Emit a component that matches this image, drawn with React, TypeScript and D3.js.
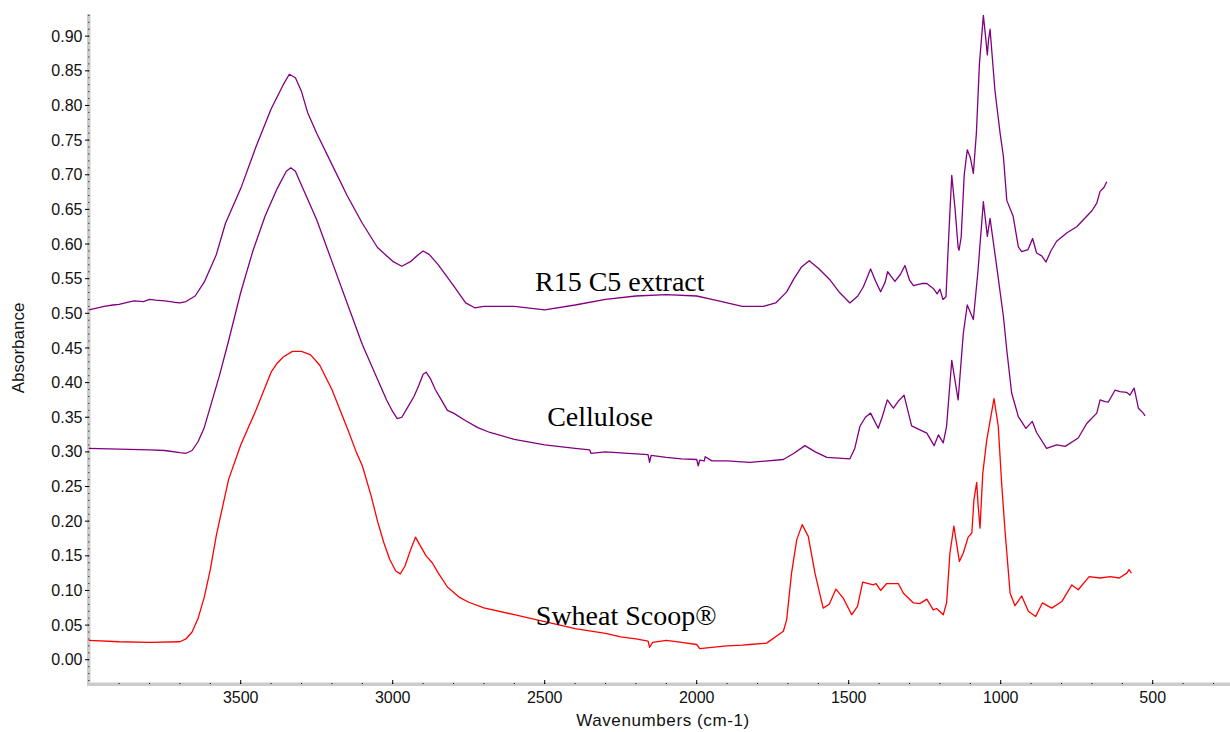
import React from "react";
import * as d3 from "d3";

// ---- Data (wavenumber cm-1, absorbance) ----
const r15Wn = [4000,3970,3950,3920,3900,3870,3850,3820,3800,3780,3750,3720,3700,3680,3650,3620,3580,3550,3500,3450,3400,3360,3340,3320,3300,3280,3250,3200,3150,3100,3050,3000,2970,2940,2915,2900,2880,2850,2800,2760,2730,2700,2600,2500,2400,2300,2200,2100,2000,1950,1900,1850,1800,1781,1740,1704,1680,1655,1630,1600,1561,1530,1496,1470,1452,1428,1410,1395,1380,1372,1360,1348,1330,1315,1300,1287,1260,1243,1220,1209,1200,1190,1180,1170,1161,1150,1140,1137,1130,1120,1110,1100,1090,1080,1070,1057,1050,1044,1040,1035,1019,1002,991,980,959,942,931,910,895,882,865,851,835,816,783,750,728,700,684,673,660,651];
const r15Abs = [0.505,0.508,0.510,0.512,0.513,0.516,0.518,0.517,0.520,0.519,0.518,0.516,0.515,0.517,0.525,0.545,0.585,0.630,0.680,0.740,0.795,0.830,0.845,0.840,0.820,0.790,0.760,0.715,0.670,0.630,0.595,0.575,0.568,0.575,0.585,0.590,0.585,0.570,0.540,0.515,0.508,0.510,0.510,0.505,0.512,0.520,0.525,0.527,0.525,0.520,0.515,0.510,0.510,0.510,0.515,0.531,0.550,0.567,0.576,0.565,0.548,0.530,0.515,0.525,0.538,0.564,0.545,0.531,0.545,0.560,0.553,0.546,0.556,0.569,0.548,0.540,0.543,0.543,0.535,0.528,0.535,0.520,0.524,0.620,0.699,0.650,0.595,0.591,0.610,0.700,0.736,0.725,0.702,0.760,0.860,0.930,0.900,0.873,0.895,0.910,0.822,0.760,0.726,0.663,0.640,0.596,0.589,0.592,0.608,0.587,0.583,0.574,0.590,0.604,0.616,0.625,0.635,0.648,0.659,0.676,0.682,0.690];

const celWn = [4000,3900,3800,3750,3700,3680,3660,3640,3620,3600,3570,3540,3500,3460,3420,3380,3350,3335,3320,3300,3280,3250,3200,3150,3100,3050,3020,3000,2985,2970,2950,2930,2915,2900,2890,2875,2860,2840,2820,2800,2760,2720,2680,2600,2500,2400,2352,2348,2300,2200,2160,2155,2150,2100,2050,2000,1995,1990,1975,1972,1950,1900,1825,1715,1680,1644,1610,1572,1496,1480,1463,1445,1428,1403,1390,1373,1353,1337,1318,1293,1243,1219,1205,1189,1178,1161,1140,1123,1110,1090,1075,1057,1044,1035,1013,991,980,964,942,917,896,882,849,816,788,745,717,684,673,657,646,624,608,586,575,561,547,531,525];
const celAbs = [0.305,0.304,0.303,0.302,0.299,0.298,0.302,0.315,0.335,0.365,0.410,0.460,0.530,0.590,0.640,0.680,0.705,0.710,0.705,0.685,0.665,0.635,0.575,0.515,0.455,0.405,0.375,0.358,0.348,0.350,0.365,0.380,0.395,0.412,0.415,0.405,0.390,0.375,0.360,0.356,0.345,0.335,0.328,0.318,0.310,0.305,0.303,0.298,0.300,0.297,0.296,0.285,0.295,0.292,0.290,0.289,0.280,0.288,0.287,0.293,0.287,0.287,0.285,0.289,0.298,0.309,0.300,0.292,0.290,0.305,0.337,0.350,0.356,0.334,0.350,0.375,0.363,0.373,0.382,0.3375,0.327,0.309,0.3245,0.313,0.337,0.432,0.375,0.471,0.512,0.491,0.560,0.661,0.611,0.637,0.567,0.495,0.447,0.385,0.351,0.334,0.344,0.328,0.305,0.310,0.308,0.320,0.341,0.356,0.375,0.3725,0.372,0.389,0.387,0.386,0.382,0.392,0.363,0.356,0.352];

const swWn = [4000,3900,3800,3700,3680,3660,3640,3620,3600,3580,3560,3540,3500,3450,3400,3380,3360,3330,3300,3270,3240,3200,3150,3120,3100,3070,3050,3030,3010,2990,2975,2960,2940,2925,2910,2890,2870,2850,2820,2780,2750,2700,2600,2500,2400,2300,2250,2200,2160,2155,2145,2100,2050,2000,1990,1950,1900,1850,1825,1770,1715,1704,1688,1671,1653,1633,1611,1584,1564,1542,1518,1490,1471,1454,1419,1410,1395,1375,1337,1320,1287,1266,1243,1222,1211,1189,1178,1167,1154,1136,1123,1107,1095,1088,1079,1074,1068,1059,1046,1022,1008,997,986,969,953,931,909,885,863,832,799,766,745,709,673,640,610,585,578,570];
const swAbs = [0.028,0.026,0.025,0.026,0.030,0.040,0.060,0.090,0.130,0.180,0.220,0.260,0.310,0.360,0.415,0.428,0.437,0.445,0.445,0.440,0.425,0.390,0.335,0.300,0.280,0.235,0.200,0.170,0.145,0.128,0.124,0.135,0.160,0.177,0.165,0.150,0.140,0.125,0.105,0.090,0.083,0.075,0.065,0.055,0.045,0.038,0.033,0.030,0.027,0.018,0.025,0.028,0.025,0.022,0.016,0.018,0.020,0.021,0.022,0.024,0.041,0.058,0.125,0.173,0.195,0.178,0.125,0.0745,0.080,0.102,0.089,0.065,0.077,0.112,0.108,0.110,0.100,0.110,0.110,0.096,0.082,0.081,0.0875,0.072,0.074,0.065,0.082,0.154,0.193,0.142,0.154,0.177,0.183,0.231,0.256,0.221,0.190,0.269,0.317,0.377,0.337,0.255,0.1875,0.096,0.078,0.092,0.070,0.0625,0.082,0.0745,0.084,0.108,0.101,0.120,0.118,0.120,0.118,0.125,0.130,0.125];

const yTicks = [0,0.05,0.1,0.15,0.2,0.25,0.3,0.35,0.4,0.45,0.5,0.55,0.6,0.65,0.7,0.75,0.8,0.85,0.9];
const xTicks = [3500,3000,2500,2000,1500,1000,500];

const series = [
  { name: "R15 C5 extract", wn: r15Wn, abs: r15Abs, color: "#800080" },
  { name: "Cellulose", wn: celWn, abs: celAbs, color: "#800080" },
  { name: "Swheat Scoop®", wn: swWn, abs: swAbs, color: "#ff0000" },
];

const labels = [
  { text: "R15 C5 extract", wn: 2253, abs: 0.532 },
  { text: "Cellulose", wn: 2318, abs: 0.338 },
  { text: "Swheat Scoop®", wn: 2232, abs: 0.05 },
];

export default function App() {
  const W = 1230, H = 732;
  const x = d3.scaleLinear().domain([4000, 250]).range([88.7, 1228.7]);
  const y = d3.scaleLinear().domain([-0.035, 0.932]).range([684, 14]);
  const line = d3.line<[number, number]>().x(d => x(d[0])).y(d => y(d[1]));
  const sans = "'Liberation Sans', Arial, sans-serif";
  const serif = "'Liberation Serif', 'Times New Roman', serif";
  const yMinor = d3.range(-3, 94).map(i => i / 100);
  const xMinor = d3.range(3, 40).map(i => i * 100);
  return (
    <svg width={W} height={H} style={{ position: "absolute", left: 0, top: 0, background: "#fff" }}>
      {/* axes */}
      <rect x={87} y={14} width={3.5} height={672} fill="#cccccc" />
      <rect x={87} y={682.5} width={1143} height={3.5} fill="#cccccc" />
      {yMinor.map(v => (
        <rect key={"ym" + v} x={88.3} y={y(v) - 0.5} width={1} height={1} fill="#000" />
      ))}
      {yTicks.map(v => (
        <g key={"yt" + v}>
          <line x1={85} x2={89} y1={y(v)} y2={y(v)} stroke="#000" strokeWidth={1} />
          <text x={82.5} y={y(v)} dy="0.35em" textAnchor="end" fontFamily={sans} fontSize={16} fill="#111">{v.toFixed(2)}</text>
        </g>
      ))}
      {xMinor.map(v => (
        <rect key={"xm" + v} x={x(v) - 0.5} y={683} width={1} height={1} fill="#000" />
      ))}
      {xTicks.map(v => (
        <g key={"xt" + v}>
          <line x1={x(v)} x2={x(v)} y1={680} y2={684} stroke="#000" strokeWidth={1} />
          <text x={x(v)} y={703} textAnchor="middle" fontFamily={sans} fontSize={16} fill="#111">{v}</text>
        </g>
      ))}
      <text x={663} y={726} textAnchor="middle" fontFamily={sans} fontSize={17} letterSpacing={0.6} fill="#111">Wavenumbers (cm-1)</text>
      <text transform={`translate(24,348) rotate(-90)`} textAnchor="middle" fontFamily={sans} fontSize={17} fill="#111">Absorbance</text>
      {/* spectra */}
      {series.map(s => (
        <path key={s.name} d={line(s.wn.map((w, i) => [w, s.abs[i]] as [number, number])) || ""} fill="none" stroke={s.color} strokeWidth={1.3} strokeLinejoin="round" />
      ))}
      {labels.map(l => (
        <text key={l.text} x={x(l.wn)} y={y(l.abs)} textAnchor="middle" fontFamily={serif} fontSize={28} fill="#000">{l.text}</text>
      ))}
    </svg>
  );
}
